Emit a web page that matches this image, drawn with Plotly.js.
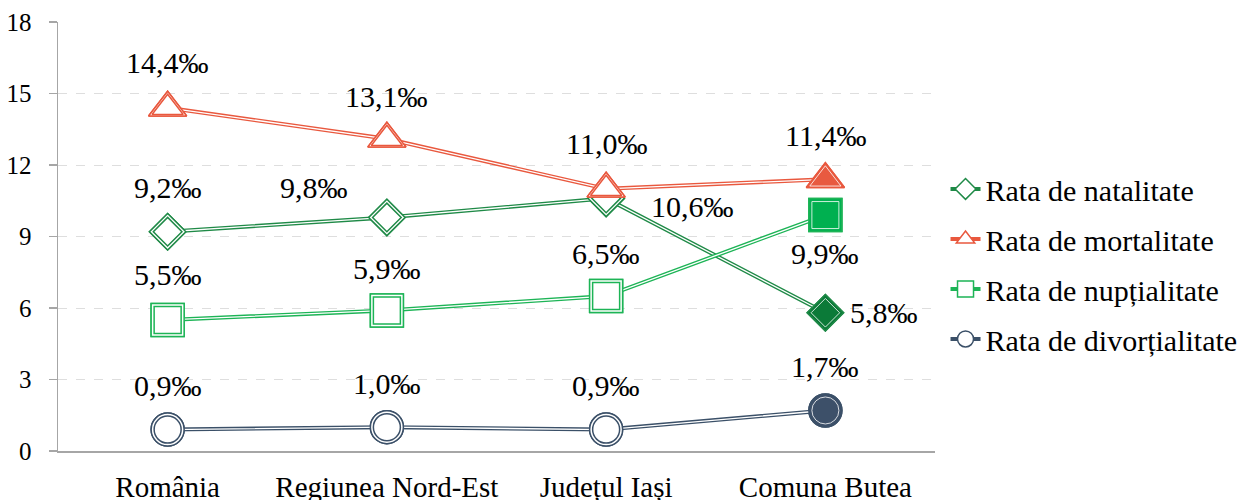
<!DOCTYPE html>
<html>
<head>
<meta charset="utf-8">
<script src="https://cdn.plot.ly/plotly-3.0.1.min.js"></script>
<style>html,body{margin:0;padding:0;background:#fff;}#chart{width:1256px;height:500px;}</style>
</head>
<body>
<div id="chart"></div>
<script>
const categories = ['România', 'Regiunea Nord-Est', 'Județul Iași', 'Comuna Butea'];
const seriesNames = ['Rata de natalitate', 'Rata de mortalitate', 'Rata de nupțialitate', 'Rata de divorțialitate'];
const natalitate = [9.2, 9.8, 10.6, 5.8];
const mortalitate = [14.4, 13.1, 11.0, 11.4];
const nuptialitate = [5.5, 5.9, 6.5, 9.9];
const divortialitate = [0.9, 1.0, 0.9, 1.7];
const yTicks = [0, 3, 6, 9, 12, 15, 18];

const seriesValues = [natalitate, mortalitate, nuptialitate, divortialitate];
const colors = ['#1f8a47', '#e9583e', '#1db456', '#3b5068'];
const fillLast = ['#0b7a38', '#e85a40', '#00b050', '#3d5069'];
const symbols = ['diamond', 'triangle-up', 'square', 'circle'];
const sizes = [28, 33, 33, 33];
// label offsets in pixels [xshift, yshift] per series per point
const labelShifts = [
  [[0, 44], [-73, 30], [86, -8], [59, 0]],
  [[0, 45], [0, 42], [0, 45], [0, 44]],
  [[0, 45], [0, 42], [0, 43], [0, -38]],
  [[0, 44], [0, 44], [0, 44], [0, 44]]
];

const fmt = v => v.toFixed(1).replace('.', ',') + '‰';
const FONT = '"Liberation Serif", "Times New Roman", Tinos, "DejaVu Serif", "Noto Serif", serif';

const traces = [];
const annotations = [];
seriesValues.forEach((vals, i) => {
  const c = colors[i];
  const outerFill = vals.map((v, j) => j === vals.length - 1 ? fillLast[i] : '#ffffff');
  traces.push({
    x: categories, y: vals, name: seriesNames[i], type: 'scatter', mode: 'lines+markers',
    legendgroup: 'g' + i,
    line: {color: c, width: 4},
    marker: {symbol: symbols[i], size: sizes[i], color: '#ffffff', line: {color: c, width: 1.5}},
    hoverinfo: 'skip'
  });
  traces.push({
    x: categories, y: vals, type: 'scatter', mode: 'lines', showlegend: false,
    line: {color: '#ffffff', width: 1.3}, hoverinfo: 'skip'
  });
  traces.push({
    x: categories, y: vals, type: 'scatter', mode: 'markers', showlegend: false,
    marker: {symbol: symbols[i], size: sizes[i], color: outerFill, line: {color: c, width: 1.5}},
    hoverinfo: 'skip'
  });
  traces.push({
    x: categories, y: vals, type: 'scatter', mode: 'markers', showlegend: false,
    marker: {symbol: symbols[i], size: sizes[i] - 6, color: outerFill,
      line: {color: vals.map((v, j) => j === vals.length - 1 ? '#ffffff' : c), width: [1.5, 1.5, 1.5, 0.8]}},
    hoverinfo: 'skip'
  });
  vals.forEach((v, j) => {
    annotations.push({
      x: categories[j], y: v, xref: 'x', yref: 'y', text: fmt(v), showarrow: false,
      xshift: labelShifts[i][j][0], yshift: labelShifts[i][j][1],
      font: {family: FONT, size: 30, color: '#000'}
    });
  });
});

const layout = {
  width: 1256, height: 500,
  margin: {l: 58, r: 321, t: 22, b: 49, pad: 0},
  paper_bgcolor: '#fff', plot_bgcolor: '#fff',
  font: {family: FONT},
  showlegend: true,
  legend: {x: 1.012, xanchor: 'left', y: 0.436, yanchor: 'middle', traceorder: 'grouped',
    tracegroupgap: 8, bgcolor: 'rgba(0,0,0,0)',
    font: {family: FONT, size: 30, color: '#000'}},
  xaxis: {
    type: 'category', range: [-0.5, 3.5], showgrid: false, zeroline: false,
    showline: true, linecolor: '#a6a6a6', linewidth: 1.5, ticks: '',
    tickfont: {family: FONT, size: 29, color: '#000'}, ticklabelstandoff: 10, fixedrange: true
  },
  yaxis: {
    range: [0, 18], tickvals: yTicks, ticktext: yTicks.map(String), showgrid: true,
    gridcolor: '#dedede', griddash: 'dash', gridwidth: 1, zeroline: false,
    showline: true, linecolor: '#a6a6a6', linewidth: 1.5, ticks: 'outside', ticklen: 8,
    tickcolor: '#a6a6a6', tickwidth: 1.5, ticklabelstandoff: 12,
    tickfont: {family: FONT, size: 25, color: '#000'}, fixedrange: true
  },
  annotations: annotations
};

Plotly.newPlot('chart', traces, layout, {staticPlot: true, displayModeBar: false});
</script>
</body>
</html>
